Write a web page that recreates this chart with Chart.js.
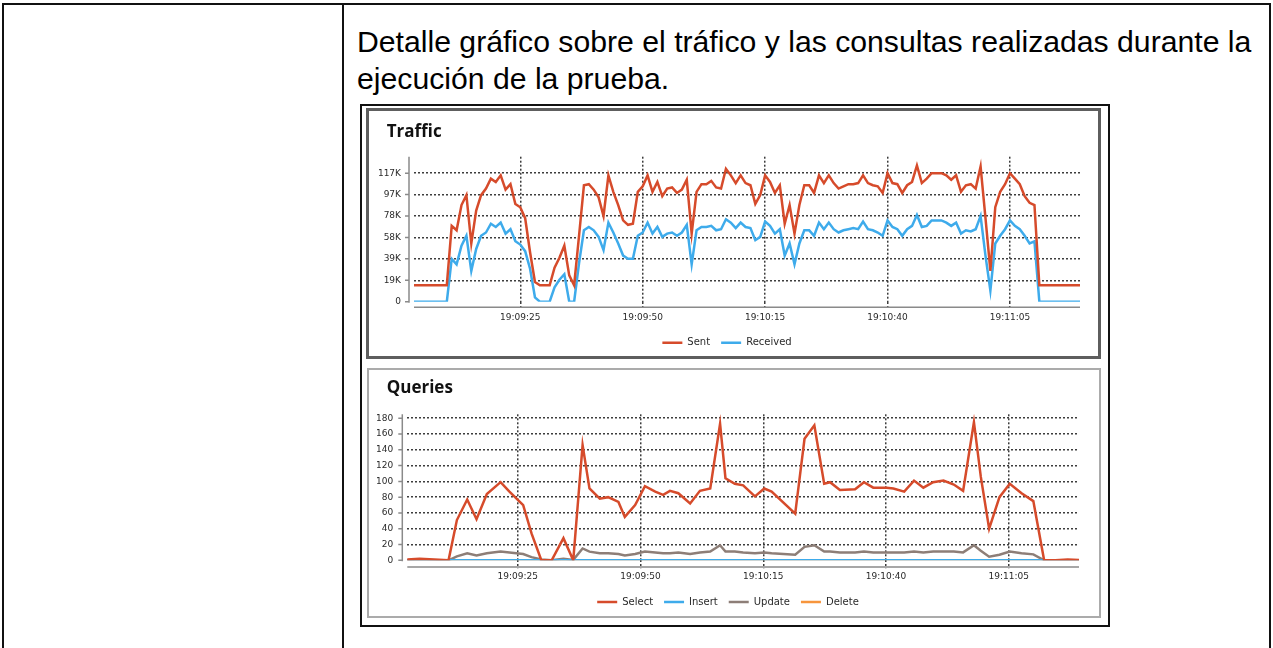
<!DOCTYPE html>
<html>
<head>
<meta charset="utf-8">
<title>Tráfico y consultas</title>
<script src="https://cdn.jsdelivr.net/npm/chart.js@4.4.1/dist/chart.umd.min.js"></script>
<style>
  html, body { margin: 0; padding: 0; background: #fff; }
  body { width: 1273px; height: 648px; position: relative; overflow: hidden; }
  .rule { position: absolute; background: #111; }
  #caption { position: absolute; left: 357px; top: 22.5px; font: 30.2px/37.8px "Liberation Sans", Arial, sans-serif; color: #000; white-space: nowrap; }
  #frame { position: absolute; left: 360px; top: 104px; width: 750px; height: 523px; border: 2px solid #111; box-sizing: border-box; }
  .panel { position: absolute; box-sizing: border-box; background: #fff; }
  #trafficPanel { left: 366px; top: 108px; width: 735px; height: 251px; border: 3px solid #5e5e5e; }
  #queriesPanel { left: 367px; top: 368px; width: 734px; height: 250px; border: 2px solid #ababab; }
  .box { position: absolute; }
  #trafficBox { left: 370px; top: 112px; width: 727px; height: 248px; }
  #queriesBox { left: 369px; top: 371px; width: 729px; height: 246px; }
</style>
</head>
<body>
<div class="rule" style="left:2px;top:3px;width:1269px;height:2px"></div>
<div class="rule" style="left:2px;top:3px;width:2px;height:645px"></div>
<div class="rule" style="left:342px;top:3px;width:2px;height:645px"></div>
<div class="rule" style="left:1269px;top:3px;width:2px;height:645px"></div>

<div id="caption">Detalle gráfico sobre el tráfico y las consultas realizadas durante la<br>ejecución de la prueba.</div>

<div id="frame"></div>
<div class="panel" id="trafficPanel"></div>
<div class="panel" id="queriesPanel"></div>
<div class="box" id="trafficBox"><canvas id="traffic"></canvas></div>
<div class="box" id="queriesBox"><canvas id="queries"></canvas></div>

<script>
// time is kept as seconds after 19:09:00
const timeTicks = [25, 50, 75, 100, 125]
const timeTickLabels = ['19:09:25', '19:09:50', '19:10:15', '19:10:40', '19:11:05']

// traffic, one sample per second starting at 19:09:03, in K
const trafficStart = 3
const trafficSent = [
  15, 15, 15, 15, 15, 15, 15, 15,
  69, 65, 88, 97, 53, 83, 97, 103, 112, 109,
  115, 102, 107, 89, 86, 76, 45, 18, 15, 15,
  15, 31, 40, 51, 24, 15, 60, 106, 107, 102,
  95, 78, 115, 100, 88, 74, 70, 71, 100, 105,
  115, 100, 109, 96, 103, 104, 99, 102, 111, 62,
  100, 107, 107, 110, 104, 103, 121, 115, 108, 115,
  108, 106, 89, 97, 115, 109, 99, 106, 71, 88,
  62, 88, 106, 106, 99, 115, 108, 115, 108, 103,
  105, 107, 107, 108, 115, 108, 106, 105, 99, 117,
  108, 107, 99, 106, 109, 124, 108, 112, 117, 117,
  117, 115, 111, 115, 100, 106, 107, 103, 123, 76,
  28, 86, 100, 107, 117, 112, 107, 96, 90, 88,
  15, 15, 15, 15, 15, 15, 15, 15, 15, 15
]
const trafficReceived = [
  0, 0, 0, 0, 0, 0, 0, 0,
  39, 34, 51, 60, 28, 48, 60, 63, 71, 68,
  72, 62, 66, 55, 52, 46, 30, 4, 0, 0,
  0, 13, 20, 25, 0, 0, 35, 65, 68, 65,
  59, 47, 72, 63, 53, 42, 39, 39, 60, 63,
  72, 62, 68, 59, 62, 63, 60, 63, 70, 34,
  65, 68, 68, 69, 65, 66, 75, 72, 67, 72,
  68, 67, 56, 59, 73, 69, 62, 66, 42, 53,
  34, 53, 65, 65, 60, 72, 66, 72, 66, 63,
  65, 66, 67, 66, 73, 66, 65, 63, 60, 74,
  68, 66, 60, 66, 69, 79, 68, 69, 74, 74,
  74, 72, 69, 72, 62, 65, 64, 66, 78, 42,
  10, 53, 60, 66, 74, 69, 66, 60, 53, 55,
  0, 0, 0, 0, 0, 0, 0, 0, 0, 0
]
const trafficTicks = [0, 19.5, 39, 58.5, 78, 97.5, 117]
const trafficTickLabels = ['0', '19K', '39K', '58K', '78K', '97K', '117K']

// queries, sampled roughly every two seconds
const queryTimes = [
  2, 5, 8, 10.9, 12.6, 14.7, 16.6, 18.7, 21.5, 23.3,
  26.1, 27.8, 29.8, 31.9, 34.3, 36.3, 38.2, 39.6, 41.7, 43.4,
  45.5, 46.8, 48.9, 50.9, 53, 54.6, 56, 57.7, 60.1, 62.1,
  64.2, 66.2, 67.3, 69.2, 70.9, 73.3, 75.2, 76.7, 81.5, 83.4,
  85.4, 87.4, 88.6, 90.6, 93.7, 95.5, 97.4, 100.1, 101.5, 103.7,
  105.7, 107.6, 109.6, 111.7, 113.8, 115.7, 117.9, 119.3, 121, 123.1,
  125.2, 127.6, 130, 132.2, 134.5, 137, 140
]
const querySelect = [
  1, 2, 1, 0, 51, 77, 52, 84, 99, 87,
  70, 34, 0, 0, 28, 0, 146, 91, 78, 80,
  74, 55, 70, 94, 87, 83, 88, 85, 72, 88,
  91, 173, 104, 97, 95, 81, 91, 87, 59, 154,
  171, 97, 99, 89, 90, 99, 92, 92, 91, 87,
  101, 92, 99, 101, 96, 88, 175, 106, 40, 80,
  97, 85, 75, 0, 0, 1, 0
]
const queryInsert = [
  0, 0, 0, 0, 0, 0, 0, 0, 0, 0,
  0, 0, 0, 0, 0, 0, 0, 0, 0, 0,
  0, 0, 0, 0, 0, 0, 0, 0, 0, 0,
  0, 0, 0, 0, 0, 0, 0, 0, 0, 0,
  0, 0, 0, 0, 0, 0, 0, 0, 0, 0,
  0, 0, 0, 0, 0, 0, 0, 0, 0, 0,
  0, 0, 0, 0, 0, 0, 0
]
const queryUpdate = [
  0, 0, 0, 0, 5, 9, 6, 9, 11, 10,
  8, 4, 1, 0, 2, 0.5, 15, 11, 9, 9,
  8, 6, 8, 11, 10, 9, 9, 10, 8, 10,
  11, 19, 11, 11, 10, 9, 10, 9, 7, 17,
  19, 11, 11, 10, 10, 11, 10, 10, 10, 10,
  11, 10, 11, 11, 11, 10, 19, 12, 4.6, 7,
  11, 9, 7.5, 0, 0, 0, 0
]
const queryDelete = [
  0, 0, 0, 0, 0, 0, 0, 0, 0, 0,
  0, 0, 0, 0, 0, 0, 0, 0, 0, 0,
  0, 0, 0, 0, 0, 0, 0, 0, 0, 0,
  0, 0, 0, 0, 0, 0, 0, 0, 0, 0,
  0, 0, 0, 0, 0, 0, 0, 0, 0, 0,
  0, 0, 0, 0, 0, 0, 0, 0, 0, 0,
  0, 0, 0, 0, 0, 0, 0
]
const queryTicks = [0, 20, 40, 60, 80, 100, 120, 140, 160, 180]

const red = '#d64b2b'
const blue = '#3eabeb'
const brown = '#8d7e77'
const orange = '#f7953c'
const gridColor = '#3d3d3d'
const textColor = '#2a2a2a'
const tickFont = {family: 'DejaVu Sans', size: 9}
const legendFont = {family: 'DejaVu Sans', size: 10}

// axis lines sit a few pixels off the plot area, with small ticks on the value axis;
// the title is nudged right so it lines up with the plot instead of the tick labels
const offsetAxes = {
  id: 'offsetAxes',
  afterLayout(chart, args, opts) {
    if (chart.titleBlock) chart.titleBlock.left = opts.titleX
  },
  afterDraw(chart, args, opts) {
    const {ctx, chartArea: a} = chart
    const y = chart.scales.y
    const ax = a.left - opts.yGap
    const ay = a.bottom + opts.xGap
    ctx.save()
    ctx.strokeStyle = '#8a8a8a'
    ctx.lineWidth = 1.5
    ctx.beginPath()
    ctx.moveTo(ax, a.top)
    ctx.lineTo(ax, a.bottom + 1)
    y.ticks.forEach(t => {
      let py = y.getPixelForValue(t.value)
      ctx.moveTo(ax - 4, py)
      ctx.lineTo(ax, py)
    })
    ctx.moveTo(a.left, ay)
    ctx.lineTo(a.right, ay)
    ctx.stroke()
    ctx.restore()
  }
}

function points(times, values) {
  return values.map((v, i) => ({x: times[i], y: v}))
}

function makeChart(id, cfg) {
  return new Chart(document.getElementById(id), {
    type: 'line',
    data: {datasets: cfg.datasets},
    options: {
      responsive: true,
      maintainAspectRatio: false,
      animation: false,
      devicePixelRatio: 1,
      layout: {padding: cfg.padding},
      elements: {line: {tension: 0}, point: {radius: 0}},
      scales: {
        x: {
          type: 'linear',
          min: cfg.xMin,
          max: cfg.xMax,
          afterBuildTicks: s => { s.ticks = timeTicks.map(v => ({value: v})) },
          afterFit: s => { s.height = cfg.xHeight },
          border: {display: false, dash: [2, 2]},
          grid: {color: gridColor, lineWidth: 1.5, tickLength: 8, tickBorderDash: [2, 2]},
          ticks: {
            padding: 3, maxRotation: 0, autoSkip: false, font: tickFont, color: textColor,
            callback: v => timeTickLabels[timeTicks.indexOf(v)]
          }
        },
        y: {
          min: 0,
          max: cfg.yMax,
          afterBuildTicks: s => { s.ticks = cfg.yTicks.map(v => ({value: v})) },
          afterFit: s => { s.width = cfg.yWidth },
          border: {display: false, dash: [2, 2]},
          grid: {
            drawTicks: false,
            lineWidth: 1.5,
            color: c => (c.tick && c.tick.value === 0) ? 'rgba(0,0,0,0)' : gridColor
          },
          ticks: {
            padding: cfg.yPad, font: tickFont, color: textColor,
            callback: v => cfg.yLabels[cfg.yTicks.indexOf(v)]
          }
        }
      },
      plugins: {
        title: {
          display: true, text: cfg.title, align: 'start', color: '#111',
          font: {family: 'Open Sans', size: 17, weight: 'bold'},
          padding: cfg.titlePad
        },
        legend: {
          position: 'bottom',
          labels: {usePointStyle: true, pointStyle: 'line', pointStyleWidth: 20, padding: 11, font: legendFont, color: textColor}
        },
        tooltip: {enabled: false},
        offsetAxes: {xGap: cfg.xGap, yGap: 5, titleX: cfg.titleX}
      }
    },
    plugins: [offsetAxes]
  })
}

const trafficTimes = trafficSent.map((v, i) => trafficStart + i)

makeChart('traffic', {
  title: 'Traffic',
  datasets: [
    {label: 'Sent', data: points(trafficTimes, trafficSent), borderColor: red, backgroundColor: red, borderWidth: 2.5},
    {label: 'Received', data: points(trafficTimes, trafficReceived), borderColor: blue, backgroundColor: blue, borderWidth: 2.5}
  ],
  padding: {left: 4, right: 17, top: 0, bottom: 2.3},
  titlePad: {top: 9.8, bottom: 14.5},
  titleX: 16.7,
  xMin: 3.3, xMax: 139.3, xHeight: 25, xGap: 5.6,
  yMax: 132, yTicks: trafficTicks, yLabels: trafficTickLabels, yWidth: 40, yPad: 13
})

makeChart('queries', {
  title: 'Queries',
  datasets: [
    {label: 'Select', data: points(queryTimes, querySelect), borderColor: red, backgroundColor: red, borderWidth: 2.5},
    {label: 'Insert', data: points(queryTimes, queryInsert), borderColor: blue, backgroundColor: blue, borderWidth: 2.5},
    {label: 'Update', data: points(queryTimes, queryUpdate), borderColor: brown, backgroundColor: brown, borderWidth: 2.5},
    {label: 'Delete', data: points(queryTimes, queryDelete), borderColor: orange, backgroundColor: orange, borderWidth: 2.5}
  ],
  padding: {left: 8, right: 19, top: 0, bottom: 0},
  titlePad: {top: 7.3, bottom: 15.6},
  titleX: 17.7,
  xMin: 2.5, xMax: 139.3, xHeight: 25.7, xGap: 6.7,
  yMax: 185, yTicks: queryTicks, yLabels: queryTicks.map(String), yWidth: 30.3, yPad: 14
})
</script>
</body>
</html>
